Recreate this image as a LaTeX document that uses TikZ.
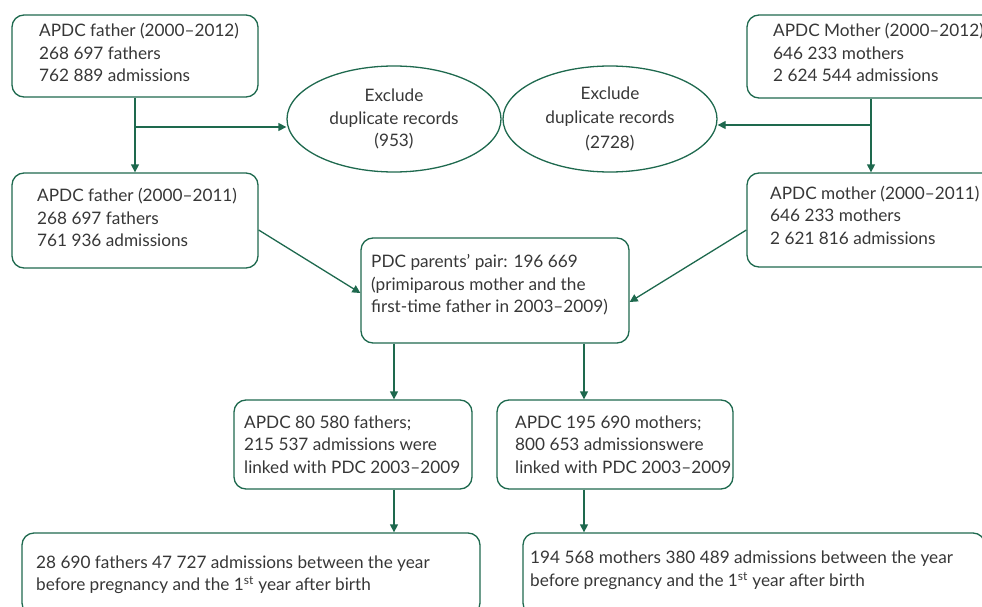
\documentclass[tikz,border=0pt]{standalone}
\usepackage{fontspec}
\setmainfont{Lato}
\usetikzlibrary{arrows.meta,shapes.geometric}
\definecolor{grn}{RGB}{30,105,78}
\definecolor{txt}{RGB}{55,55,55}
\begin{document}
\begin{tikzpicture}[x=1pt,y=-1pt,
  box/.style={draw=grn,line width=1.3pt,rounded corners=12pt,inner sep=0pt},
  oval/.style={draw=grn,line width=1.3pt,ellipse,inner sep=0pt,minimum width=214pt,minimum height=106pt,
    text=txt,align=center,font=\fontsize{17.2}{22.5}\selectfont},
  lbl/.style={anchor=north west,inner sep=0pt,text=txt,align=left,font=\fontsize{17.2}{22.5}\selectfont},
  arr/.style={draw=grn,line width=1.3pt,-{Triangle[width=8pt,length=8pt]}}]
\useasboundingbox (0,0) rectangle (982,607);
\clip (0,0) rectangle (982,607);
% boxes
\node[box,minimum width=246pt,minimum height=82pt] (A) at (135,56) {};
\node[box,minimum width=246pt,minimum height=95pt] (B) at (135,220.5) {};
\node[box,minimum width=248pt,minimum height=83pt] (C) at (871,56.5) {};
\node[box,minimum width=248pt,minimum height=94pt] (D) at (871,220) {};
\node[box,minimum width=268pt,minimum height=105pt] (E) at (495,290.5) {};
\node[box,minimum width=238pt,minimum height=89pt] (F) at (353,444.5) {};
\node[box,minimum width=236pt,minimum height=89pt] (G) at (615,444.5) {};
\node[box,minimum width=458pt,minimum height=82pt] (H) at (251,574) {};
\node[box,minimum width=462pt,minimum height=82pt] (I) at (754,574) {};
% ellipses
\node[oval] (E1) at (394,119) {Exclude\\duplicate records\\(953)};
\node[oval] (E2) at (610,119) {Exclude\\[1pt]duplicate records\\[3pt](2728)};
% texts
\node[lbl] (tA) at (39,23) {APDC father (2000–2012)\\268 697 fathers\\762 889 admissions};
\node[lbl] (tB) at (37,188) {APDC father (2000–2011)\\268 697 fathers\\761 936 admissions};
\node[lbl] (tC) at (773,23) {APDC Mother (2000–2012)\\646 233 mothers\\2 624 544 admissions};
\node[lbl] (tD) at (770,185.5) {APDC mother (2000–2011)\\646 233 mothers\\2 621 816 admissions};
\node[lbl] (tE) at (371,254.5) {PDC parents’ pair: 196 669\\(primiparous mother and the\\first-time father in 2003–2009)};
\node[lbl] (tF) at (244,415.5) {APDC 80 580 fathers;\\215 537 admissions were\\linked with PDC 2003–2009};
\node[lbl] (tG) at (515,415.5) {APDC 195 690 mothers;\\800 653 admissionswere\\linked with PDC 2003–2009};
\node[lbl] (tH) at (36,555.5) {28 690 fathers 47 727 admissions between the year\\before pregnancy and the 1\textsuperscript{st} year after birth};
\node[lbl] (tI) at (530,551) {194 568 mothers 380 489 admissions between the year\\before pregnancy and the 1\textsuperscript{st} year after birth};
% connectors
\coordinate (jA) at (135,127);
\coordinate (jC) at (871,125);
\draw[arr] (A.south) -- (B.north);
\draw[arr] (jA) -- (jA -| E1.west);
\draw[arr] (C.south) -- (D.north);
\draw[arr] (jC) -- (jC -| E2.east);
\draw[arr] ([yshift=-9.5pt]B.east) -- ([yshift=-2.5pt]E.west);
\draw[arr] ([yshift=-10pt]D.west) -- ([yshift=-11.5pt]E.east);
\draw[arr] ([xshift=-101pt]E.south) -- ([xshift=-101pt]E.south |- F.north);
\draw[arr] ([xshift=89pt]E.south) -- ([xshift=89pt]E.south |- G.north);
\draw[arr] ([xshift=41pt]F.south) -- ([xshift=41pt]F.south |- H.north);
\draw[arr] ([xshift=-31pt]G.south) -- ([xshift=-31pt]G.south |- I.north);
\end{tikzpicture}
\end{document}
